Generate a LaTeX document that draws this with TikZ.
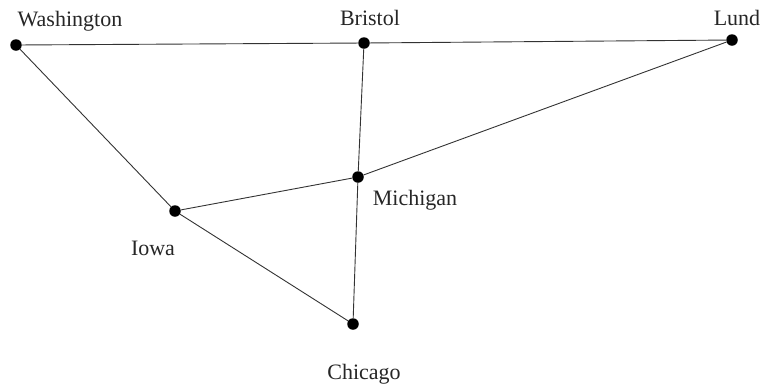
\documentclass[tikz,border=0pt]{standalone}
\usepackage{fontspec}
\setmainfont{Liberation Serif}
\begin{document}
\begin{tikzpicture}[x=1pt,y=-1pt,
  dot/.style={circle,fill=black,inner sep=0pt,minimum size=11.5pt},
  lbl/.style={anchor=base,inner sep=0pt,font=\fontsize{22}{26}\selectfont,text=black!85},
  edge/.style={draw=black!80,line width=0.9pt}]
\useasboundingbox (0,0) rectangle (762,384);
\node[dot] (was) at (16,45) {};
\node[dot] (bri) at (364,43) {};
\node[dot] (lun) at (732,40) {};
\node[dot] (mic) at (358,177) {};
\node[dot] (iow) at (175,211) {};
\node[dot] (chi) at (353,324) {};
\node[lbl] (lwas) at (70,26) {Washington};
\node[lbl] (lbri) at (370,25) {Bristol};
\node[lbl] (llun) at (737,25) {Lund};
\node[lbl] (lmic) at (415,205) {Michigan};
\node[lbl] (liow) at (153,255) {Iowa};
\node[lbl] (lchi) at (364,379) {Chicago};
\begin{scope}[on background layer/.style={}]
\draw[edge] (was) -- (bri);
\draw[edge] (bri) -- (lun);
\draw[edge] (was) -- (iow);
\draw[edge] (bri) -- (mic);
\draw[edge] (mic) -- (lun);
\draw[edge] (iow) -- (mic);
\draw[edge] (iow) -- (chi);
\draw[edge] (mic) -- (chi);
\end{scope}
\end{tikzpicture}
\end{document}
